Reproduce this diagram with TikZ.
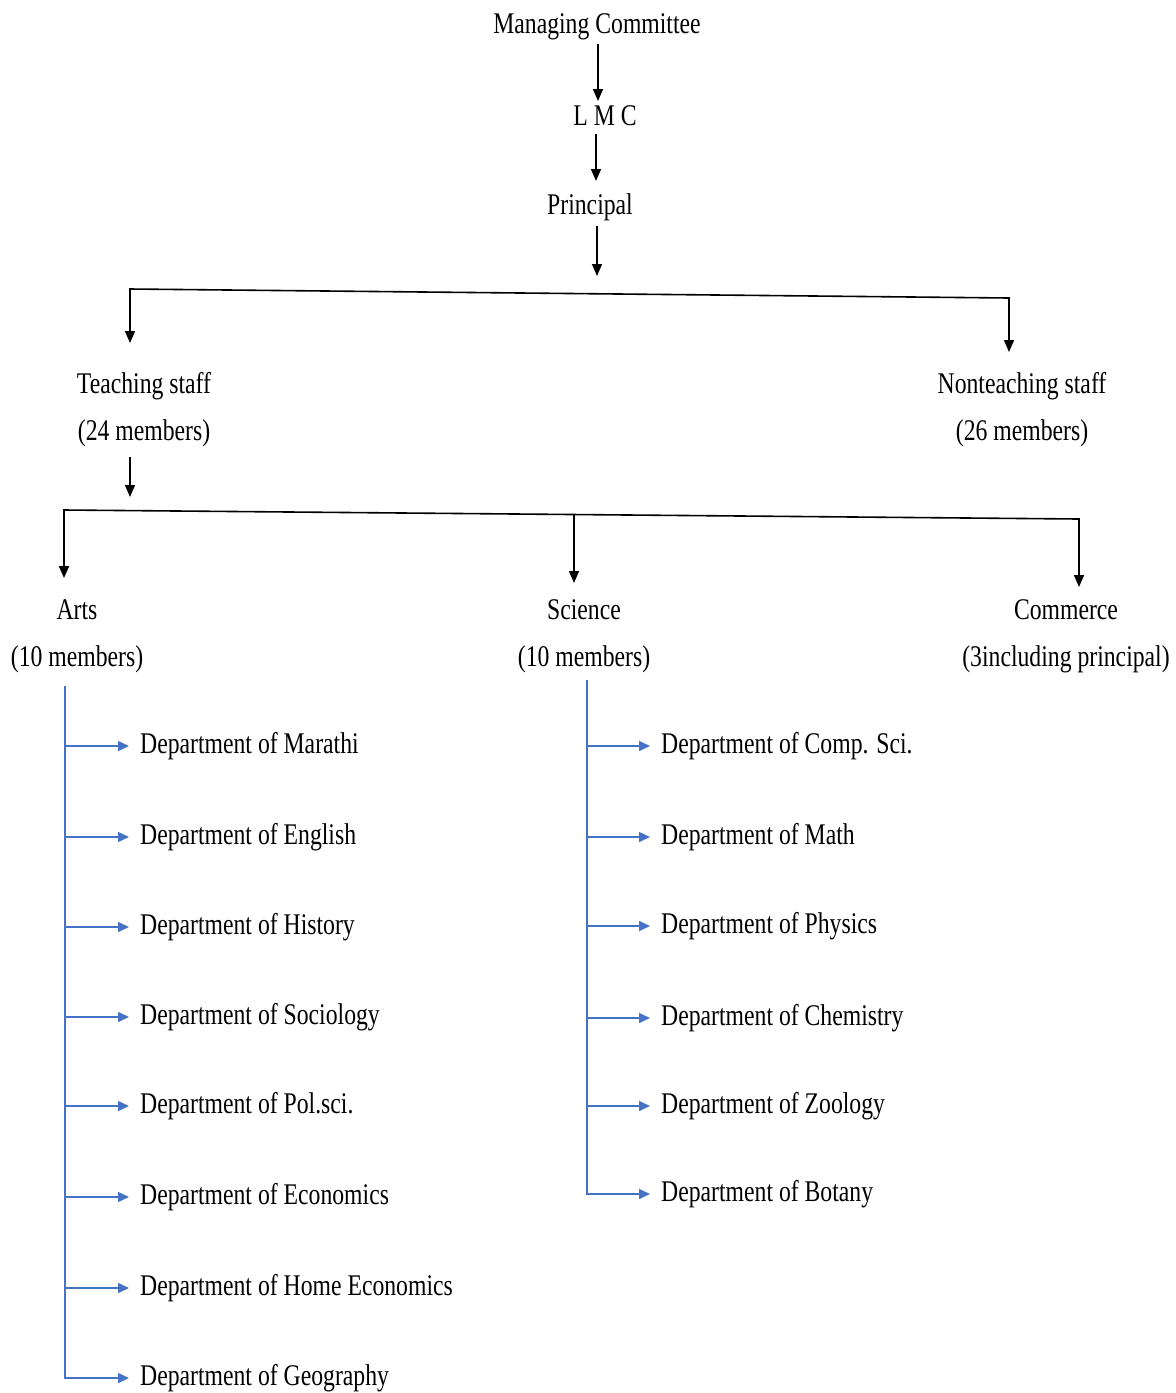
\documentclass[tikz,border=0pt]{standalone}
\usepackage{fontspec}
\setmainfont[FakeStretch=0.79]{Liberation Serif}
\usetikzlibrary{arrows.meta}
\definecolor{dblue}{RGB}{68,114,196}
\begin{document}
\begin{tikzpicture}[x=1pt,y=-1pt,
 txt/.style={inner sep=0pt, font=\fontsize{30}{47}\selectfont, align=center},
 dept/.style={inner sep=0pt, anchor=west, font=\fontsize{30}{36}\selectfont},
 ln/.style={line width=1.6pt, black, line join=miter},
 arr/.style={ln, -{Triangle[width=10pt,length=12pt]}},
 arrtwo/.style={ln, {Triangle[width=10pt,length=12pt]}-{Triangle[width=10pt,length=12pt]}},
 bln/.style={line width=1.5pt, draw=dblue},
 barr/.style={bln, -{Triangle[width=10pt,length=11pt]}, shorten >=11pt},
]
\useasboundingbox (0,0) rectangle (1176,1393);

% top chain
\node[txt] (mc) at (597,27) {Managing Committee};
\node[txt] (lmc) at (605,116) {L M C};
\node[txt] (pr) at (590,207) {Principal};

\coordinate (a1) at (598,101);
\coordinate (a2) at (596,181);
\coordinate (a3) at (597,276);
\draw[arr, shorten <=4pt] (a1 |- mc.south) -- (a1);
\draw[arr, shorten <=8pt] (a2 |- lmc.south) -- (a2);
\draw[arr, shorten <=5pt] (a3 |- pr.south) -- (a3);

% staff level
\node[txt] (ts) at (144,410) {Teaching staff\\(24 members)};
\node[txt] (nts) at (1022,410) {Nonteaching staff\\(26 members)};

\coordinate (b1l) at (130,289);
\coordinate (b1r) at (1009,298);
\coordinate (t1) at (130,343);
\coordinate (t2) at (1009,352);
\draw[arrtwo] (t1) -- (b1l) -- (b1r) -- (t2);

% faculty level
\coordinate (t3) at (130,497);
\draw[arr, shorten <=10pt] (t3 |- ts.south) -- (t3);

\node[txt] (arts) at (77,636) {Arts\\(10 members)};
\node[txt] (sci) at (584,636) {Science\\(10 members)};
\node[txt] (com) at (1066,636) {Commerce\\(3including principal)};

\coordinate (b2l) at (64,510);
\coordinate (b2r) at (1079,519);
\coordinate (b2m) at (574,514.5);
\coordinate (t4) at (64,578);
\coordinate (t5) at (574,583);
\coordinate (t6) at (1079,587);
\draw[arrtwo] (t4) -- (b2l) -- (b2r) -- (t6);
\draw[arr] (b2m) -- (t5);

% Arts departments
\node[dept] (ad1) at (140,746) {Department of Marathi};
\node[dept] (ad2) at (140,837) {Department of English};
\node[dept] (ad3) at (140,927) {Department of History};
\node[dept] (ad4) at (140,1017) {Department of Sociology};
\node[dept] (ad5) at (140,1106) {Department of Pol.sci.};
\node[dept] (ad6) at (140,1197) {Department of Economics};
\node[dept] (ad7) at (140,1288) {Department of Home Economics};
\node[dept] (ad8) at (140,1378) {Department of Geography};

\coordinate (abus) at (65,686);
\draw[barr] (abus) |- (ad8.west);
\foreach \d in {ad1,ad2,ad3,ad4,ad5,ad6,ad7}
  \draw[barr] (abus |- \d.west) -- (\d.west);

% Science departments
\node[dept] (sd1) at (661,746) {Department of Comp. Sci.};
\node[dept] (sd2) at (661,837) {Department of Math};
\node[dept] (sd3) at (661,926) {Department of Physics};
\node[dept] (sd4) at (661,1018) {Department of Chemistry};
\node[dept] (sd5) at (661,1106) {Department of Zoology};
\node[dept] (sd6) at (661,1194) {Department of Botany};

\coordinate (sbus) at (587,680);
\draw[barr] (sbus) |- (sd6.west);
\foreach \d in {sd1,sd2,sd3,sd4,sd5}
  \draw[barr] (sbus |- \d.west) -- (\d.west);
\end{tikzpicture}
\end{document}
